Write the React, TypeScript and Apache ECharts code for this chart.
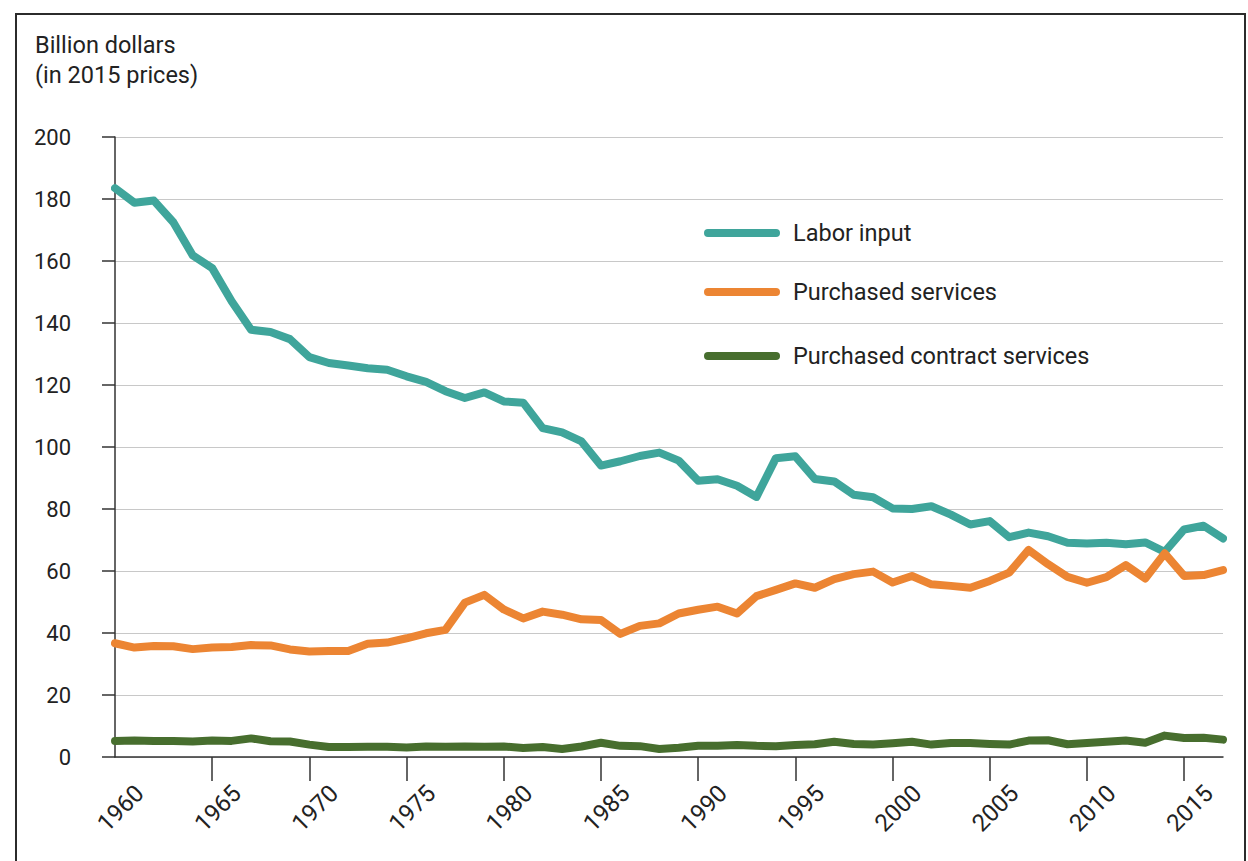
import React, { useEffect, useRef } from "react";
import * as echarts from "echarts";

const FIRST_YEAR = 1960;
const LAST_YEAR = 2017;
const years: string[] = [];
for (let y = FIRST_YEAR; y <= LAST_YEAR; y++) years.push(String(y));

const seriesNames = ["Labor input", "Purchased services", "Purchased contract services"];

const laborInput = [
  183.5, 178.8, 179.5, 172.5, 161.8, 157.7, 147.0, 137.8, 137.1, 134.8,
  129.0, 127.1, 126.3, 125.4, 124.9, 122.8, 121.0, 118.0, 115.8, 117.6,
  114.7, 114.3, 106.1, 104.7, 101.8, 94.0, 95.4, 97.1, 98.2, 95.6,
  89.1, 89.6, 87.5, 83.9, 96.4, 97.0, 89.7, 88.9, 84.6, 83.8,
  80.2, 80.0, 80.9, 78.2, 75.0, 76.1, 70.9, 72.4, 71.2, 69.1,
  68.9, 69.1, 68.6, 69.2, 66.2, 73.4, 74.6, 70.5,
];

const purchasedServices = [
  36.7, 35.3, 35.8, 35.7, 34.8, 35.3, 35.5, 36.1, 36.0, 34.7,
  34.0, 34.2, 34.2, 36.5, 36.9, 38.3, 39.9, 41.0, 49.8, 52.3,
  47.6, 44.7, 46.9, 45.9, 44.4, 44.2, 39.7, 42.3, 43.1, 46.3,
  47.5, 48.5, 46.3, 51.9, 53.9, 56.0, 54.6, 57.4, 59.0, 59.8,
  56.3, 58.4, 55.7, 55.2, 54.6, 56.8, 59.5, 66.8, 62.2, 58.1,
  56.2, 58.0, 61.9, 57.6, 65.7, 58.4, 58.7, 60.3,
];

const purchasedContractServices = [
  5.2, 5.3, 5.2, 5.2, 5.0, 5.3, 5.2, 6.0, 5.1, 5.0,
  4.0, 3.2, 3.2, 3.3, 3.3, 3.1, 3.4, 3.3, 3.4, 3.3,
  3.4, 2.9, 3.2, 2.6, 3.4, 4.6, 3.6, 3.5, 2.6, 3.0,
  3.6, 3.6, 3.9, 3.6, 3.5, 3.9, 4.1, 4.9, 4.2, 4.0,
  4.4, 4.9, 4.0, 4.5, 4.5, 4.2, 4.0, 5.3, 5.4, 4.1,
  4.5, 4.9, 5.3, 4.6, 6.9, 6.1, 6.2, 5.6,
];

const colors = ["#3fa59b", "#ec8533", "#476e2e"];
const yTitle = "Billion dollars\n(in 2015 prices)";

const FONT = "Roboto, 'Noto Sans', sans-serif";
const TEXT = "#222222";
const AXIS = "#333333";
const CAPSULE = "path://M4 0H73A4 4 0 0 1 73 8H4A4 4 0 0 1 4 0Z";

export default function App() {
  const ref = useRef<HTMLDivElement>(null);

  useEffect(() => {
    if (!ref.current) return;
    const chart = echarts.init(ref.current, null, { renderer: "svg" });
    const values = [laborInput, purchasedServices, purchasedContractServices];
    const legendTops = [219, 278, 342];

    chart.setOption({
      animation: false,
      textStyle: { fontFamily: FONT },
      grid: { left: 115, right: 25, top: 137, bottom: 104, containLabel: false },
      legend: seriesNames.map((name, i) => ({
        data: [name],
        left: 704,
        top: legendTops[i],
        padding: 0,
        selectedMode: false,
        icon: CAPSULE,
        itemWidth: 76,
        itemHeight: 8,
        textStyle: {
          fontFamily: FONT,
          fontSize: 23.5,
          lineHeight: 28,
          color: TEXT,
          padding: [0, 0, 0, 8],
        },
      })),
      xAxis: {
        type: "category",
        data: years,
        boundaryGap: false,
        axisLine: { show: true, lineStyle: { color: AXIS, width: 1.5 } },
        axisTick: {
          show: true,
          length: 24,
          interval: (index: number) => index % 5 === 0 && index > 0,
          lineStyle: { color: AXIS, width: 1.5 },
        },
        axisLabel: {
          interval: (index: number) => index % 5 === 0,
          rotate: 45,
          align: "center",
          verticalAlign: "middle",
          margin: 57,
          padding: [16, 0, 0, 16],
          fontFamily: FONT,
          fontSize: 24,
          color: TEXT,
        },
        splitLine: { show: false },
      },
      yAxis: {
        type: "value",
        min: 0,
        max: 200,
        interval: 20,
        axisLine: { show: true, lineStyle: { color: AXIS, width: 1.5 } },
        axisTick: { show: true, length: 13, lineStyle: { color: AXIS, width: 1.5 } },
        axisLabel: { margin: 44, fontFamily: FONT, fontSize: 22, color: TEXT },
        splitLine: { show: true, lineStyle: { color: "#c8c8c8", width: 1 } },
      },
      series: seriesNames.map((name, i) => ({
        name,
        type: "line",
        data: values[i],
        showSymbol: false,
        symbol: "none",
        color: colors[i],
        lineStyle: { color: colors[i], width: 8, cap: "round", join: "round" },
        emphasis: { disabled: true },
        z: 2 + i,
      })),
      graphic: [
        {
          type: "rect",
          shape: { x: 16, y: 14, width: 1229, height: 900 },
          style: { fill: "none", stroke: "#2b2b2b", lineWidth: 2 },
          silent: true,
        },
        {
          type: "text",
          x: 35,
          y: 30,
          style: {
            text: yTitle,
            fontFamily: FONT,
            fontSize: 23.5,
            lineHeight: 30,
            fill: TEXT,
            verticalAlign: "top",
          },
          silent: true,
        },
      ],
    });

    return () => chart.dispose();
  }, []);

  return (
    <div
      ref={ref}
      style={{ position: "absolute", left: 0, top: 0, width: 1248, height: 861, background: "#ffffff" }}
    />
  );
}
